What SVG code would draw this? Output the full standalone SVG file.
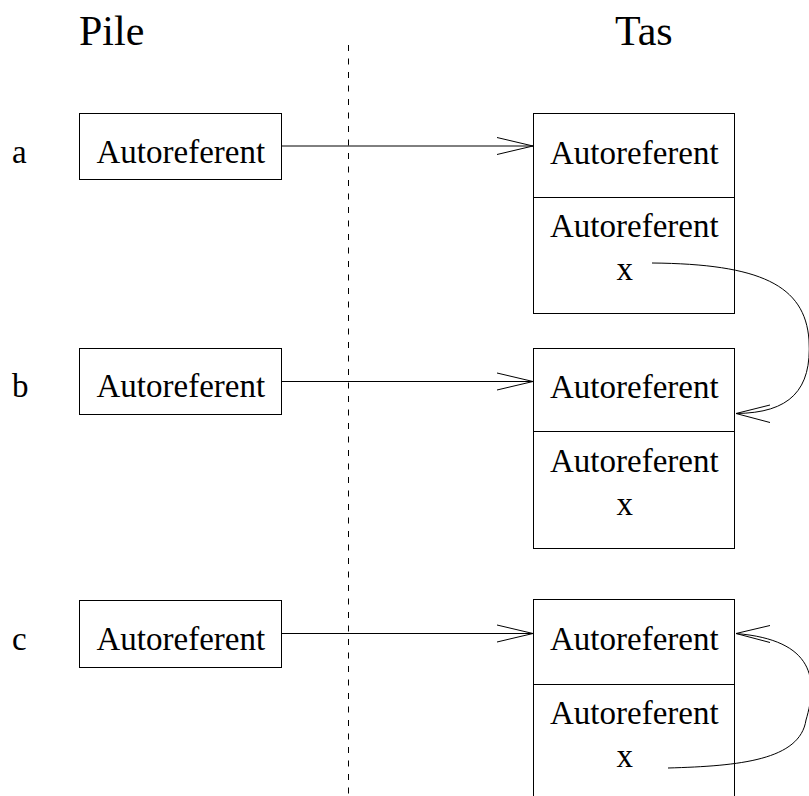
<svg xmlns="http://www.w3.org/2000/svg" width="809" height="796" viewBox="0 0 809 796">
<style>
  .box { fill: #fff; stroke: #000; stroke-width: 1; }
  .ln { fill: none; stroke: #000; stroke-width: 1; }
  text { font-family: "Liberation Serif", "DejaVu Serif", serif; fill: #000; }
  .t { font-size: 33px; }
  .h { font-size: 42px; }
</style>
<rect width="809" height="796" fill="#fff"/>
<g id="titles">
  <text class="h" x="79" y="45">Pile</text>
  <text class="h" x="615" y="45">Tas</text>
</g>
<g id="separator">
  <line class="ln" x1="348.5" y1="45" x2="348.5" y2="796" stroke-dasharray="6 7.5"/>
</g>
<g id="labels">
  <text class="t" x="12" y="163">a</text>
  <text class="t" x="12" y="397">b</text>
  <text class="t" x="12" y="650">c</text>
</g>
<g id="stack-a">
  <rect class="box" x="79.5" y="113.5" width="202" height="66"/>
  <text class="t" x="96.5" y="163">Autoreferent</text>
</g>
<g id="stack-b">
  <rect class="box" x="79.5" y="348.5" width="202" height="66"/>
  <text class="t" x="96.5" y="397">Autoreferent</text>
</g>
<g id="stack-c">
  <rect class="box" x="79.5" y="600.5" width="202" height="67"/>
  <text class="t" x="96.5" y="650">Autoreferent</text>
</g>
<g id="heap-a">
  <rect class="box" x="533.5" y="113.5" width="201" height="200"/>
  <line class="ln" x1="533.5" y1="197.5" x2="734.5" y2="197.5"/>
  <text class="t" x="550" y="164">Autoreferent</text>
  <text class="t" x="550" y="237">Autoreferent</text>
  <text class="t" x="616.5" y="280">x</text>
</g>
<g id="heap-b">
  <rect class="box" x="533.5" y="348.5" width="201" height="200"/>
  <line class="ln" x1="533.5" y1="431.5" x2="734.5" y2="431.5"/>
  <text class="t" x="550" y="398">Autoreferent</text>
  <text class="t" x="550" y="472">Autoreferent</text>
  <text class="t" x="616.5" y="515">x</text>
</g>
<g id="heap-c">
  <rect class="box" x="533.5" y="599.5" width="201" height="210"/>
  <line class="ln" x1="533.5" y1="684.5" x2="734.5" y2="684.5"/>
  <text class="t" x="550" y="650">Autoreferent</text>
  <text class="t" x="550" y="724">Autoreferent</text>
  <text class="t" x="616.5" y="767">x</text>
</g>
<g id="connectors">
  <line class="ln" x1="281.5" y1="146" x2="533" y2="146"/>
  <polyline class="ln" points="497,137.5 533,146 497,154.5"/>
  <line class="ln" x1="281.5" y1="381.5" x2="533" y2="381.5"/>
  <polyline class="ln" points="497,373 533,381.5 497,390"/>
  <line class="ln" x1="281.5" y1="633.5" x2="533" y2="633.5"/>
  <polyline class="ln" points="497,625 533,633.5 497,642"/>
  <path class="ln" d="M652,263 C760,264 805,285 809,340 C812,390 790,413 736,413.5"/>
  <polyline class="ln" points="770,405 736,413.5 770,422.5"/>
  <path class="ln" d="M668,768 C740,766 800,760 806,720 C818,680 815,640 736,633.5"/>
  <polyline class="ln" points="770,625.5 736,633.5 770,642.5"/>
</g>
</svg>
